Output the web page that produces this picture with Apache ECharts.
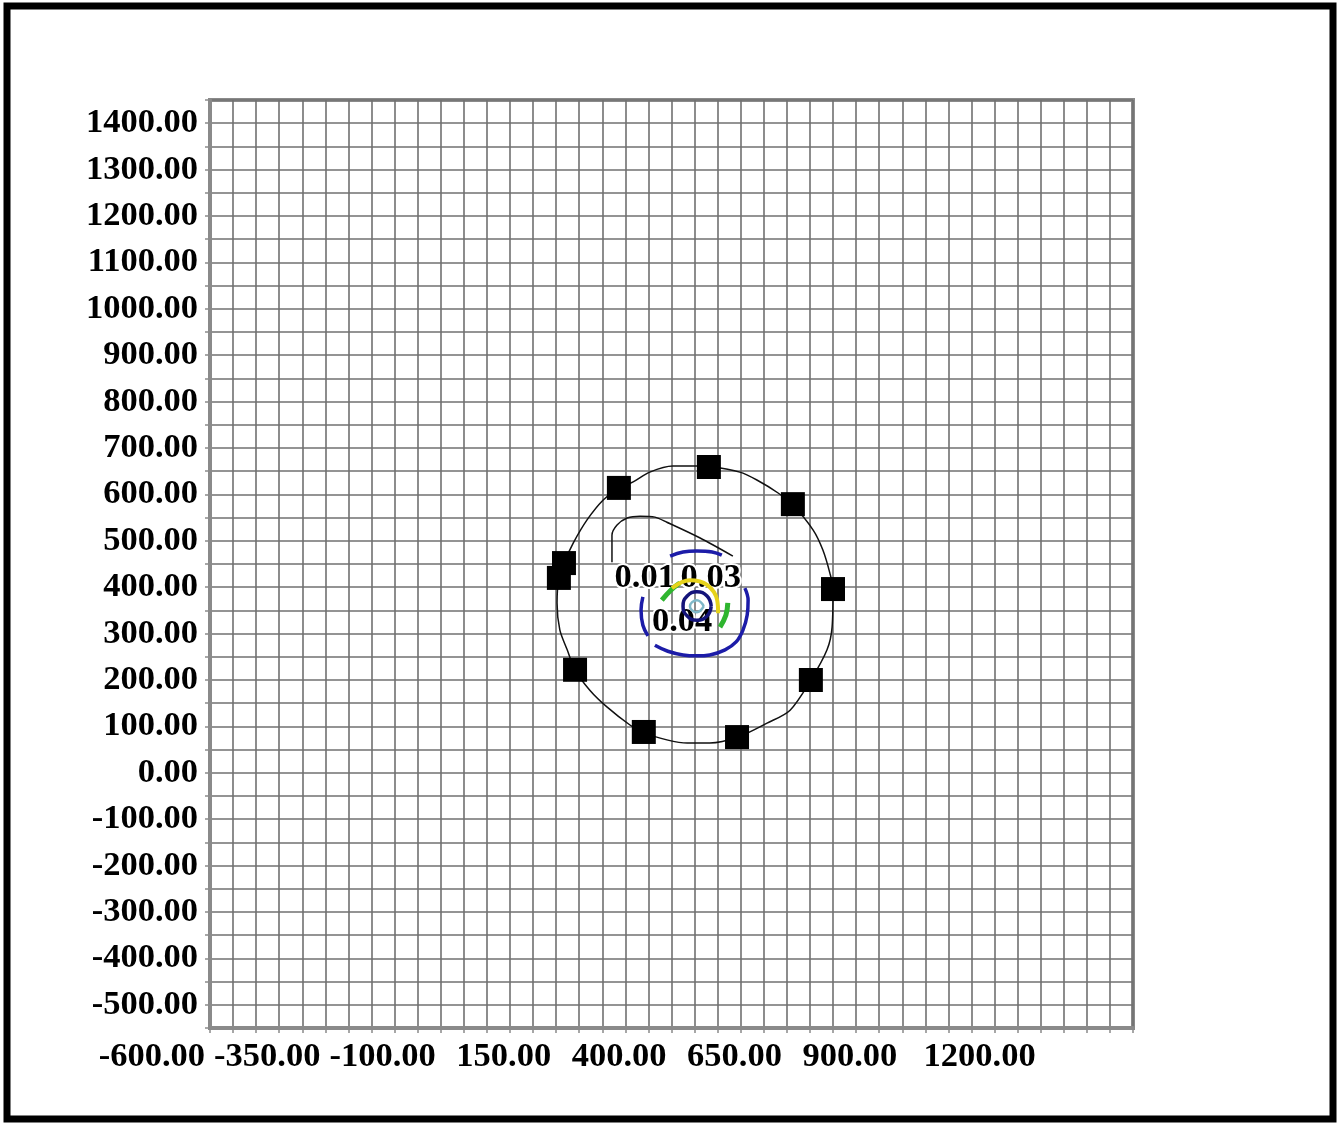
<!DOCTYPE html>
<html>
<head>
<meta charset="utf-8">
<script src="https://cdn.jsdelivr.net/npm/echarts@6/dist/echarts.min.js"></script>
<style>
html,body{margin:0;padding:0;background:#fff;}
#chart{width:1337px;height:1124px;}
</style>
</head>
<body>
<div id="chart"></div>
<script>
// Tick labels
var xTickLabels = [-600, -350, -100, 150, 400, 650, 900, 1200];
var yLabelMax = 1400;

// Monitoring points (black squares)
var squarePoints = [
  [481, 659], [286, 614], [663, 579], [167, 452], [156, 420],
  [750, 396], [191, 222], [702, 200], [340, 88], [542, 77]
];

// Outer boundary (closed line through the squares)
var boundaryLine = [
  [481, 661], [548, 648], [585, 631], [631, 603], [663, 577], [707, 523],
  [728, 480], [743, 431], [750, 396], [748, 314], [737, 265], [702, 200],
  [657, 135], [607, 107], [544, 77], [483, 64], [434, 64], [390, 71],
  [340, 86], [310, 103], [260, 142], [223, 178], [191, 222], [174, 265],
  [158, 308], [152, 366], [156, 420], [167, 452], [187, 495], [217, 545],
  [252, 588], [286, 614], [317, 627], [353, 648], [403, 661], [481, 661]
];

// Teardrop shaped line
var teardropLine = [
  [271, 454], [271, 512], [282, 534], [304, 549], [332, 553], [364, 551],
  [390, 540], [462, 506], [533, 467]
];

// Contour 0.01 (blue) pieces
var blueTop = [[397, 467], [425, 476], [455, 478], [488, 476], [509, 469]];
var blueRightBottom = [
  [559, 398], [566, 372], [564, 340], [555, 308], [540, 282], [516, 265],
  [483, 254], [455, 252], [425, 254], [392, 262], [364, 275]
];
var blueLeft = [[338, 379], [334, 351], [338, 318], [349, 295]];

// Contour green pieces
var greenLeft = [[379, 372], [399, 394], [418, 409]];
var greenRight = [[522, 366], [518, 340], [505, 314]];

// Contour yellow (0.03)
var yellowArc = [[401, 398], [440, 415], [477, 405], [499, 372], [501, 344]];

// Contour inner navy ring (0.04)
var navyRing = [
  [486, 359], [477, 381], [455, 390], [434, 381], [425, 359],
  [434, 338], [455, 329], [477, 338], [486, 359]
];
// Innermost cyan/gray ring
var cyanRing = [[470, 359], [455, 372], [440, 359], [455, 346], [470, 359]];

// Contour labels
var contourLabels = [
  {text: '0.01', pos: [342, 420]},
  {text: '0.03', pos: [485, 420]},
  {text: '0.04', pos: [423, 325]}
];

var FONT = "'Liberation Serif','Times New Roman',serif";
var FS = 34.5;

function lineSeries(data, color, width, smooth, z) {
  return {
    type: 'line', data: data, symbol: 'none', smooth: smooth,
    lineStyle: {color: color, width: width}, z: z, silent: true
  };
}

var chart = echarts.init(document.getElementById('chart'));
var option = {
  animation: false,
  backgroundColor: '#fff',
  grid: {left: 210, right: 204, top: 100, bottom: 96, show: true,
         borderColor: '#8a8a8a', borderWidth: 4, backgroundColor: 'transparent'},
  xAxis: {
    type: 'value', min: -600, max: 1400, interval: 50,
    axisLine: {show: true, onZero: false, lineStyle: {color: '#8a8a8a', width: 4}},
    axisTick: {show: true, length: 5, lineStyle: {color: '#8a8a8a', width: 1.5}},
    splitLine: {show: true, lineStyle: {color: '#707070', width: 1.6}},
    axisLabel: {
      show: true, margin: 12, align: 'right', padding: [0, 5, 0, 0],
      color: '#000', fontFamily: FONT, fontWeight: 'bold', fontSize: FS,
      formatter: function (v) {
        return xTickLabels.indexOf(Math.round(v)) >= 0 ? v.toFixed(2) : '';
      }
    }
  },
  yAxis: {
    type: 'value', min: -550, max: 1450, interval: 50,
    axisLine: {show: true, onZero: false, lineStyle: {color: '#8a8a8a', width: 4}},
    axisTick: {show: true, length: 5, lineStyle: {color: '#8a8a8a', width: 1.5}},
    splitLine: {show: true, lineStyle: {color: '#707070', width: 1.6}},
    axisLabel: {
      show: true, margin: 12,
      color: '#000', fontFamily: FONT, fontWeight: 'bold', fontSize: FS,
      formatter: function (v) {
        var r = Math.round(v);
        return (r % 100 === 0 && r <= yLabelMax) ? v.toFixed(2) : '';
      }
    }
  },
  graphic: [{
    type: 'rect', shape: {x: 7, y: 6, width: 1326, height: 1113},
    style: {fill: 'none', stroke: '#000', lineWidth: 7}, z: 100, silent: true
  }],
  series: [
    {
      type: 'scatter', symbolSize: 0, z: 4, silent: true,
      itemStyle: {opacity: 1},
      data: contourLabels.map(function (d) {
        return {value: d.pos, label: {formatter: d.text}};
      }),
      label: {
        show: true, position: 'inside', color: '#000', fontFamily: FONT,
        fontWeight: 'bold', fontSize: FS,
        textBorderColor: '#fff', textBorderWidth: 4
      }
    },
    lineSeries(boundaryLine, '#111', 1.5, 0.3, 5),
    lineSeries(teardropLine, '#111', 1.5, 0.3, 5),
    lineSeries(blueTop, '#1c1ca8', 3.5, 0.4, 6),
    lineSeries(blueRightBottom, '#1c1ca8', 3.5, 0.4, 6),
    lineSeries(blueLeft, '#1c1ca8', 3.5, 0.4, 6),
    lineSeries(greenLeft, '#2fb52f', 5, 0.4, 6),
    lineSeries(greenRight, '#2fb52f', 5, 0.4, 6),
    lineSeries(yellowArc, '#e6d21a', 4, 0.4, 6),
    lineSeries(navyRing, '#14147a', 3.5, 0.5, 7),
    lineSeries(cyanRing, '#7fb8c8', 2.5, 0.5, 7),
    {
      type: 'scatter', data: squarePoints, symbol: 'rect', symbolSize: 24,
      itemStyle: {color: '#000', opacity: 1}, z: 8, silent: true
    }
  ]
};
chart.setOption(option);
</script>
</body>
</html>
